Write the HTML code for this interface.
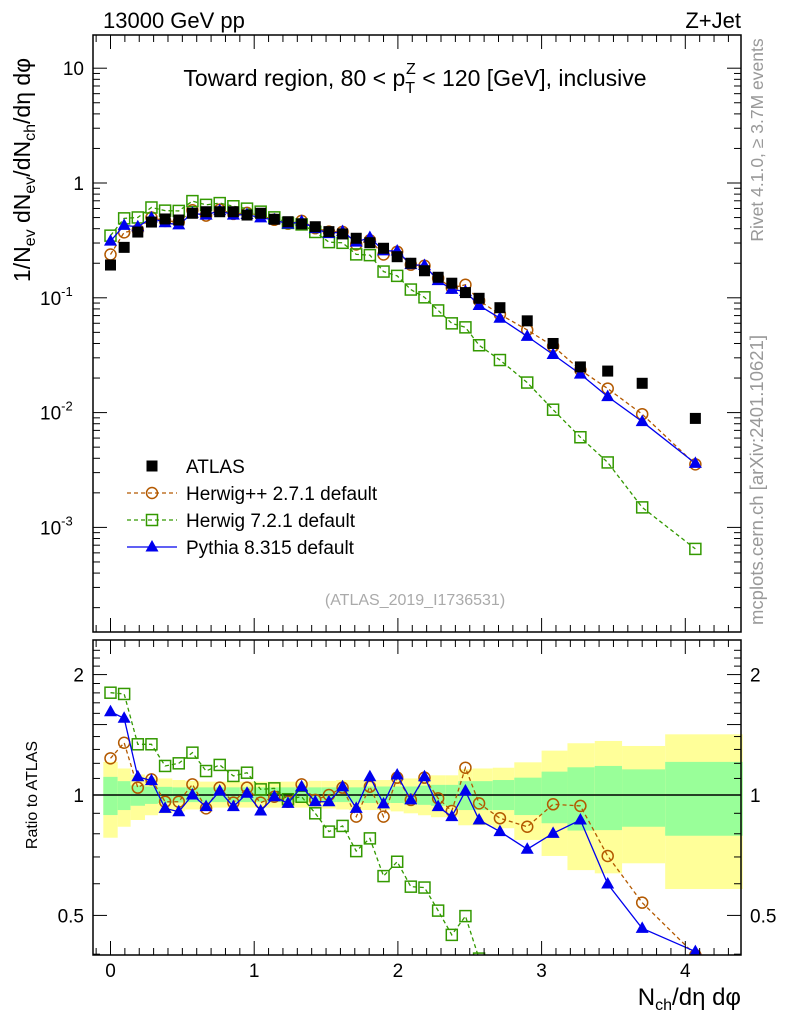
<!DOCTYPE html>
<html><head><meta charset="utf-8"><style>
html,body{margin:0;background:#fff;overflow:hidden;width:786px;height:1024px;}
svg{display:block;font-family:"Liberation Sans",sans-serif;overflow:hidden;}
</style></head><body>
<svg id="c" width="786" height="1024" viewBox="0 0 786 1024" xmlns="http://www.w3.org/2000/svg">
<g id="bands"></g>
<g id="marks"></g>
<g id="axes"></g>
<text x="103" y="28" font-size="22">13000 GeV pp</text>
<text x="741" y="28" font-size="22" text-anchor="end">Z+Jet</text>
<text x="415" y="86" font-size="23" text-anchor="middle">Toward region, 80 &lt; p<tspan font-size="16" dy="7">T</tspan><tspan font-size="16" dx="-9" dy="-19">Z</tspan><tspan dy="12" font-size="23"> &lt; 120 [GeV], inclusive</tspan></text>
<text transform="translate(30,170) rotate(-90)" font-size="23" text-anchor="middle">1/N<tspan font-size="16" dy="5">ev</tspan><tspan dy="-5"> dN</tspan><tspan font-size="16" dy="5">ev</tspan><tspan dy="-5">/dN</tspan><tspan font-size="16" dy="5">ch</tspan><tspan dy="-5">/dη dφ</tspan></text>
<text transform="translate(763,140) rotate(-90)" font-size="17.5" fill="#999" text-anchor="middle">Rivet 4.1.0, ≥ 3.7M events</text>
<text transform="translate(763,480) rotate(-90)" font-size="18.5" fill="#999" text-anchor="middle">mcplots.cern.ch [arXiv:2401.10621]</text>
<text x="415" y="605" font-size="16" fill="#aaa" text-anchor="middle">(ATLAS_2019_I1736531)</text>
<text transform="translate(37,795) rotate(-90)" font-size="16" text-anchor="middle">Ratio to ATLAS</text>
<text x="741" y="1005" font-size="24" text-anchor="end">N<tspan font-size="16" dy="5">ch</tspan><tspan dy="-5">/dη dφ</tspan></text>
<g id="legend"></g>
</svg>
<script>
const xs=[0,0.095,0.19,0.285,0.38,0.475,0.57,0.665,0.76,0.855,0.95,1.045,1.14,1.235,1.33,1.425,1.52,1.615,1.71,1.805,1.9,1.995,2.09,2.185,2.28,2.375,2.47,2.565,2.71,2.90,3.08,3.27,3.46,3.70,4.07];
const binEdges=[-0.05,0.05,0.14,0.24,0.33,0.43,0.52,0.62,0.71,0.81,0.9,1.0,1.09,1.19,1.28,1.38,1.47,1.57,1.66,1.76,1.85,1.95,2.04,2.14,2.23,2.33,2.42,2.52,2.66,2.81,3.0,3.18,3.37,3.56,3.86,4.4];
const atlas=[0.193,0.275,0.374,0.457,0.486,0.476,0.545,0.562,0.562,0.562,0.526,0.545,0.483,0.46,0.44,0.416,0.377,0.36,0.33,0.302,0.27,0.228,0.2,0.172,0.151,0.134,0.111,0.099,0.082,0.063,0.040,0.025,0.023,0.018,0.0089];
const herwigppRatio=[1.235,1.351,1.043,1.094,0.962,0.962,1.063,0.926,1.043,0.957,1.043,0.957,0.99,0.962,1.063,0.972,1.0,1.043,0.883,1.049,0.883,1.105,0.972,1.105,0.981,0.912,1.17,0.953,0.875,0.833,0.948,0.939,0.704,0.538,0.398];
const herwig7Ratio=[1.802,1.789,1.339,1.339,1.182,1.2,1.276,1.148,1.189,1.116,1.137,1.033,1.039,0.976,0.99,0.9,0.81,0.837,0.724,0.779,0.627,0.681,0.59,0.587,0.514,0.447,0.498,0.39,0.35,0.29,0.265,0.244,0.16,0.083,0.073];
const pythiaRatio=[1.615,1.555,1.111,1.086,0.926,0.908,1.0,0.935,1.023,0.935,1.01,0.912,0.99,0.953,1.049,0.962,0.962,1.049,0.926,1.111,0.95,1.122,0.972,1.111,0.935,0.883,1.023,0.866,0.81,0.732,0.802,0.866,0.599,0.464,0.406];
const yellowHi=[1.21,1.165,1.125,1.11,1.1,1.09,1.085,1.08,1.08,1.08,1.08,1.08,1.08,1.08,1.08,1.085,1.085,1.09,1.09,1.09,1.09,1.1,1.1,1.11,1.12,1.12,1.16,1.165,1.17,1.207,1.291,1.347,1.365,1.326,1.418];
const yellowLo=[0.782,0.833,0.866,0.89,0.9,0.91,0.92,0.925,0.93,0.93,0.93,0.93,0.93,0.93,0.93,0.925,0.925,0.92,0.917,0.917,0.917,0.91,0.9,0.89,0.88,0.88,0.84,0.84,0.826,0.772,0.704,0.649,0.637,0.675,0.582];
const greenHi=[1.11,1.083,1.057,1.05,1.048,1.045,1.045,1.045,1.045,1.045,1.045,1.045,1.045,1.045,1.045,1.045,1.045,1.045,1.045,1.05,1.05,1.05,1.05,1.055,1.06,1.06,1.083,1.083,1.09,1.105,1.144,1.173,1.182,1.159,1.21];
const greenLo=[0.891,0.917,0.94,0.95,0.955,0.958,0.96,0.96,0.96,0.96,0.96,0.96,0.96,0.96,0.96,0.96,0.96,0.96,0.958,0.955,0.955,0.955,0.95,0.945,0.94,0.94,0.917,0.917,0.917,0.891,0.85,0.815,0.817,0.833,0.791];
const mainYTicks=[10,1,0.1,0.01,0.001];
const mainYLabels=["10","1","10","10","10"];
const mainYExps=["","","-1","-2","-3"];
const ratioYTicks=[2,1,0.5];
const ratioYLabels=["2","1","0.5"];
const xTicks=[0,1,2,3,4];

const NS="http://www.w3.org/2000/svg";
const L=93,R=741,MT=35,MB=632,RT=640,RB=955;
const X=v=>110.5+v*143.7;
const Y=v=>183-Math.log10(v)*114.8;
const RY=v=>795-Math.log10(v)*400;
function mk(tag,attrs,parent){const e=document.createElementNS(NS,tag);for(const k in attrs)e.setAttribute(k,attrs[k]);parent.appendChild(e);return e;}
const bands=document.getElementById('bands'),marks=document.getElementById('marks'),axes=document.getElementById('axes'),legend=document.getElementById('legend');

for(let i=0;i<xs.length;i++){
  const x0=Math.max(X(binEdges[i]),L),x1=X(binEdges[i+1]);
  let r=mk('rect',{x:x0,y:RY(yellowHi[i]),width:x1-x0,height:RY(yellowLo[i])-RY(yellowHi[i]),fill:'#ffff99'},bands);
  
  
  r=mk('rect',{x:x0,y:RY(greenHi[i]),width:x1-x0,height:RY(greenLo[i])-RY(greenHi[i]),fill:'#99ff99'},bands);
  
  
}
let ln=mk('line',{x1:L,x2:R,y1:RY(1),y2:RY(1),stroke:'#000','stroke-width':1.5},bands);



const defs=mk('defs',{},document.getElementById('c'));
mk('rect',{x:L,y:MT,width:R-L,height:MB-MT},mk('clipPath',{id:'cm'},defs));
mk('rect',{x:L,y:RT,width:R-L,height:RB-RT},mk('clipPath',{id:'cr'},defs));
const gm=mk('g',{'clip-path':'url(#cm)'},marks), gr=mk('g',{'clip-path':'url(#cr)'},marks);

function marker(type,x,y,color,parent,name){
  let e;
  if(type==='sq') e=mk('rect',{x:x-5.5,y:y-5.5,width:11,height:11,fill:'#000'},parent);
  else if(type==='osq') e=mk('rect',{x:x-5.5,y:y-5.5,width:11,height:11,fill:'none',stroke:color,'stroke-width':1.5},parent);
  else if(type==='circ') e=mk('circle',{cx:x,cy:y,r:5.5,fill:'none',stroke:color,'stroke-width':1.5},parent);
  else e=mk('path',{d:`M${x},${y-7}L${x+6.5},${y+4.5}L${x-6.5},${y+4.5}Z`,fill:color},parent);
  
  
}
const series=[
 {ratio:herwigppRatio,color:'#b35900',dash:'4,3',type:'circ',name:'herwigpp-point'},
 {ratio:herwig7Ratio,color:'#339900',dash:'4,3',type:'osq',name:'herwig7-point'},
 {ratio:pythiaRatio,color:'#0000ee',dash:'',type:'tri',name:'pythia-point'}];
for(const s of series){
  const vals=atlas.map((a,i)=>a*s.ratio[i]);
  let p=mk('polyline',{points:xs.map((x,i)=>X(x)+','+Y(vals[i])).join(' '),fill:'none',stroke:s.color,'stroke-width':1.3,'stroke-dasharray':s.dash},gm);
  
  
  p=mk('polyline',{points:xs.map((x,i)=>X(x)+','+RY(s.ratio[i])).join(' '),fill:'none',stroke:s.color,'stroke-width':1.3,'stroke-dasharray':s.dash},gr);
  
  
  xs.forEach((x,i)=>{marker(s.type,X(x),Y(vals[i]),s.color,gm,s.name);marker(s.type,X(x),RY(s.ratio[i]),s.color,gr,s.name.replace('-point','-ratio-point'));});
}
xs.forEach((x,i)=>marker('sq',X(x),Y(atlas[i]),'#000',gm,'atlas-point'));

for(const [t,b] of [[MT,MB],[RT,RB]]){
  const f=mk('rect',{x:L,y:t,width:R-L,height:b-t,fill:'none',stroke:'#000','stroke-width':1.5},axes);
  
  
  for(let v=-0.1;v<=4.4;v+=0.1){
    const xv=X(v);if(xv<L||xv>R)continue;
    const major=Math.abs(v-Math.round(v))<0.01;const len=major?14:7;
    mk('line',{x1:xv,x2:xv,y1:t,y2:t+len,stroke:'#000'},axes);
    mk('line',{x1:xv,x2:xv,y1:b,y2:b-len,stroke:'#000'},axes);
  }
}
for(let d=-4;d<=1;d++)for(let m=1;m<=9;m++){
  const y=Y(m*Math.pow(10,d));if(y<MT||y>MB)continue;
  const len=m===1?14:7;
  mk('line',{x1:L,x2:L+len,y1:y,y2:y,stroke:'#000'},axes);
  mk('line',{x1:R,x2:R-len,y1:y,y2:y,stroke:'#000'},axes);
}
mainYTicks.forEach((v,i)=>{
  const t=mk('text',{x:84,y:Y(v)+7,'font-size':19,'text-anchor':'end'},axes);
  t.textContent=mainYLabels[i];
  if(mainYExps[i]){const ts=mk('tspan',{'font-size':13,dy:-9},t);ts.textContent=mainYExps[i];t.setAttribute('text-anchor','start');t.setAttribute('x',40);}
  
  
});
for(let v=0.4;v<=2.4;v+=0.1){
  const y=RY(v);if(y<RT||y>RB)continue;
  const major=[0.5,1,1.5,2].some(m=>Math.abs(m-v)<0.01);const len=major?14:7;
  mk('line',{x1:L,x2:L+len,y1:y,y2:y,stroke:'#000'},axes);
  mk('line',{x1:R,x2:R-len,y1:y,y2:y,stroke:'#000'},axes);
}
ratioYTicks.forEach((v,i)=>{
  let t=mk('text',{x:84,y:RY(v)+7,'font-size':19,'text-anchor':'end'},axes);t.textContent=ratioYLabels[i];
  
  
  t=mk('text',{x:750,y:RY(v)+7,'font-size':19},axes);t.textContent=ratioYLabels[i];
  
  
});
xTicks.forEach(v=>{
  const t=mk('text',{x:X(v),y:977,'font-size':19,'text-anchor':'middle'},axes);t.textContent=v;
  
  
});
const legItems=[['sq','#000','','ATLAS'],['circ','#b35900','4,3','Herwig++ 2.7.1 default'],['osq','#339900','4,3','Herwig 7.2.1 default'],['tri','#0000ee','','Pythia 8.315 default']];
legItems.forEach((it,i)=>{
  const y=466+i*27;
  const g=mk('g',{},legend);
  
  
  if(i>0)mk('line',{x1:127,x2:177,y1:y,y2:y,stroke:it[1],'stroke-width':1.3,'stroke-dasharray':it[2]},g);
  marker(it[0],152,y,it[1],g,'legend-marker');
  const t=mk('text',{x:186,y:y+7,'font-size':19},g);t.textContent=it[3];
});
</script>
</body></html>
